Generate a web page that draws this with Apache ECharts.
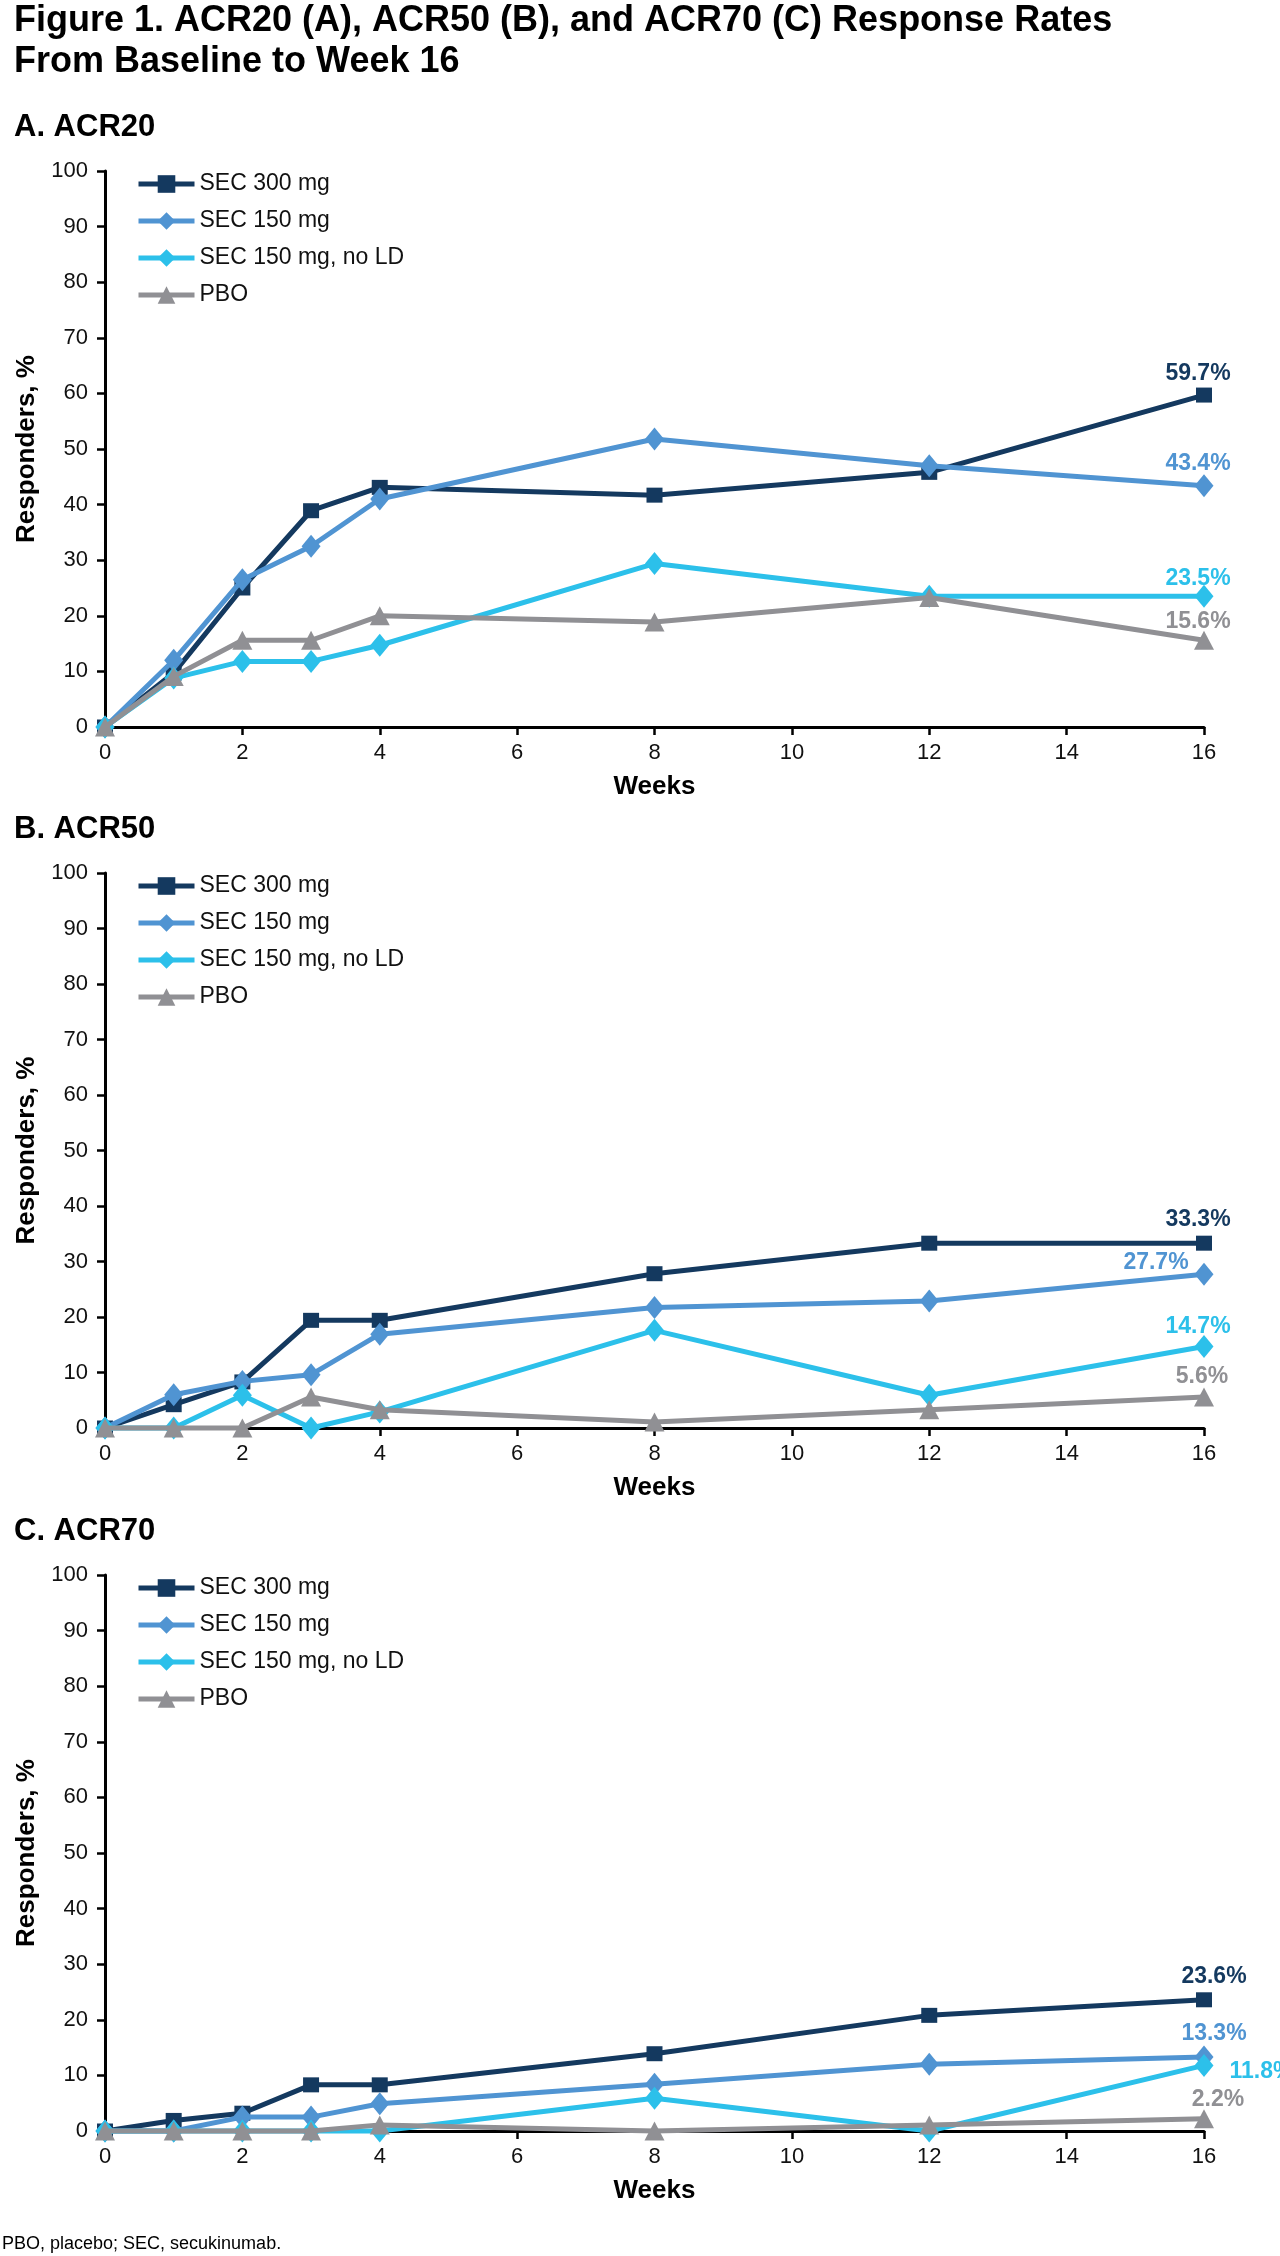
<!DOCTYPE html>
<html><head><meta charset="utf-8">
<script src="https://cdn.jsdelivr.net/npm/echarts@6/dist/echarts.min.js"></script>
<style>html,body{margin:0;padding:0;background:#fff}#c{width:1280px;height:2256px}</style>
</head><body><div id="c"></div>
<script>
// ---------- data ----------
const weeks = [0, 1, 2, 3, 4, 8, 12, 16];
const seriesNames = ['SEC 300 mg', 'SEC 150 mg', 'SEC 150 mg, no LD', 'PBO'];
const panelTitles = ['A. ACR20', 'B. ACR50', 'C. ACR70'];
const figureTitle = ['Figure 1. ACR20 (A), ACR50 (B), and ACR70 (C) Response Rates', 'From Baseline to Week 16'];
const footnote = 'PBO, placebo; SEC, secukinumab.';
const xTickValues = [0, 2, 4, 6, 8, 10, 12, 14, 16];
const yTickValues = [0, 10, 20, 30, 40, 50, 60, 70, 80, 90, 100];

const acr20_sec300 = [0, 9.7, 25.0, 38.9, 43.1, 41.7, 45.8, 59.7];
const acr20_sec150 = [0, 12.0, 26.5, 32.5, 41.0, 51.8, 47.0, 43.4];
const acr20_sec150noLD = [0, 8.8, 11.8, 11.8, 14.7, 29.4, 23.5, 23.5];
const acr20_pbo = [0, 9.1, 15.6, 15.6, 20.0, 18.9, 23.3, 15.6];

const acr50_sec300 = [0, 4.2, 8.3, 19.4, 19.4, 27.8, 33.3, 33.3];
const acr50_sec150 = [0, 6.0, 8.4, 9.6, 16.9, 21.7, 22.9, 27.7];
const acr50_sec150noLD = [0, 0, 5.9, 0, 2.9, 17.6, 5.9, 14.7];
const acr50_pbo = [0, 0, 0, 5.6, 3.3, 1.1, 3.3, 5.6];

const acr70_sec300 = [0, 1.9, 3.2, 8.3, 8.3, 13.9, 20.8, 23.6];
const acr70_sec150 = [0, 0, 2.5, 2.5, 4.9, 8.4, 12.0, 13.3];
const acr70_sec150noLD = [0, 0, 0, 0, 0, 5.9, 0, 11.8];
const acr70_pbo = [0, 0, 0, 0, 1.1, 0, 1.1, 2.2];

// ---------- styles ----------
const FONT = "'Liberation Sans', Arial, Helvetica, sans-serif";
const colors = ['#14395f', '#5094d2', '#2cc0ea', '#909094'];
const symbols = ['rect', 'diamond', 'diamond', 'triangle'];
const symbolSizes = [[16, 15], [19, 23], [19, 23], [20, 19]];
const LINE_W = 5;
const panels = [
  [acr20_sec300, acr20_sec150, acr20_sec150noLD, acr20_pbo],
  [acr50_sec300, acr50_sec150, acr50_sec150noLD, acr50_pbo],
  [acr70_sec300, acr70_sec150, acr70_sec150noLD, acr70_pbo]
];
const gridTops = [171, 873, 1575];
const gridHeights = [556, 555, 556];
const GRID_LEFT = 105, GRID_WIDTH = 1099;
// end-label placement per panel / series
const endLabelCfg = [
  [{p: 'top', o: [-6, 0]}, {p: 'top', o: [-6, 3]}, {p: 'top', o: [-6, 7]}, {p: 'top', o: [-6, 4]}],
  [{p: 'top', o: [-6, -3]}, {p: 'top', o: [-48, 13]}, {p: 'top', o: [-6, 5]}, {p: 'top', o: [-2, 3]}],
  [{p: 'top', o: [10, -2]}, {p: 'top', o: [10, 2]}, {p: 'right', o: [0, 6], d: 16}, {p: 'top', o: [14, 4]}]
];

const grids = [], xAxes = [], yAxes = [], legends = [], series = [], graphics = [];

figureTitle.forEach((t, i) => {
  graphics.push({type: 'text', left: 14, top: [3, 44][i], style: {text: t, font: 'bold 36px ' + FONT, fill: '#000'}});
});
graphics.push({type: 'text', left: 2, top: 2235, style: {text: footnote, font: '18px ' + FONT, fill: '#000'}});

panels.forEach((vals, pi) => {
  grids.push({left: GRID_LEFT, top: gridTops[pi], width: GRID_WIDTH, height: gridHeights[pi], containLabel: false});
  graphics.push({type: 'text', left: 14, top: gridTops[pi] - 59, style: {text: panelTitles[pi], font: 'bold 31px ' + FONT, fill: '#000'}});
  xAxes.push({
    gridIndex: pi, type: 'value', min: xTickValues[0], max: xTickValues[xTickValues.length - 1],
    interval: xTickValues[1] - xTickValues[0],
    name: 'Weeks', nameLocation: 'middle', nameGap: 47,
    nameTextStyle: {fontFamily: FONT, fontSize: 26, fontWeight: 'bold', color: '#000'},
    axisLine: {show: true, onZero: false, lineStyle: {color: '#000', width: 3}},
    axisTick: {show: true, length: 8, lineStyle: {color: '#000', width: 2.5}},
    axisLabel: {margin: 15, fontFamily: FONT, fontSize: 22, color: '#111'},
    splitLine: {show: false}
  });
  yAxes.push({
    gridIndex: pi, type: 'value', min: yTickValues[0], max: yTickValues[yTickValues.length - 1],
    interval: yTickValues[1] - yTickValues[0],
    name: 'Responders, %', nameLocation: 'middle', nameGap: 65,
    nameTextStyle: {fontFamily: FONT, fontSize: 26, fontWeight: 'bold', color: '#000'},
    axisLine: {show: true, onZero: false, lineStyle: {color: '#000', width: 3}},
    axisTick: {show: true, length: 8, lineStyle: {color: '#000', width: 2.5}},
    axisLabel: {margin: 17, fontFamily: FONT, fontSize: 22, color: '#111'},
    splitLine: {show: false}
  });
  legends.push({
    data: seriesNames, orient: 'vertical', left: 136, top: gridTops[pi] + 1, padding: 0,
    itemWidth: 56, itemHeight: 22, itemGap: 13, selectedMode: false,
    lineStyle: {width: LINE_W},
    textStyle: {fontFamily: FONT, fontSize: 23, color: '#111', lineHeight: 24}
  });
  vals.forEach((arr, si) => {
    const cfg = endLabelCfg[pi][si];
    const data = weeks.map((w, i) => {
      if (i !== weeks.length - 1) return [w, arr[i]];
      return {
        value: [w, arr[i]],
        label: {
          show: true, position: cfg.p, distance: cfg.d != null ? cfg.d : 2, offset: cfg.o,
          formatter: p => p.value[1].toFixed(1) + '%',
          fontFamily: FONT, fontSize: 23, fontWeight: 'bold', color: colors[si]
        }
      };
    });
    series.push({
      name: seriesNames[si], type: 'line', xAxisIndex: pi, yAxisIndex: pi,
      data: data, symbol: symbols[si], symbolSize: symbolSizes[si], showAllSymbol: true,
      lineStyle: {color: colors[si], width: LINE_W},
      itemStyle: {color: colors[si], borderWidth: 0},
      z: 2 + si, silent: true, clip: false
    });
  });
});

const chart = echarts.init(document.getElementById('c'), null, {renderer: 'canvas'});
chart.setOption({
  backgroundColor: '#fff', animation: false,
  grid: grids, xAxis: xAxes, yAxis: yAxes, legend: legends, series: series, graphic: graphics
});
</script></body></html>
